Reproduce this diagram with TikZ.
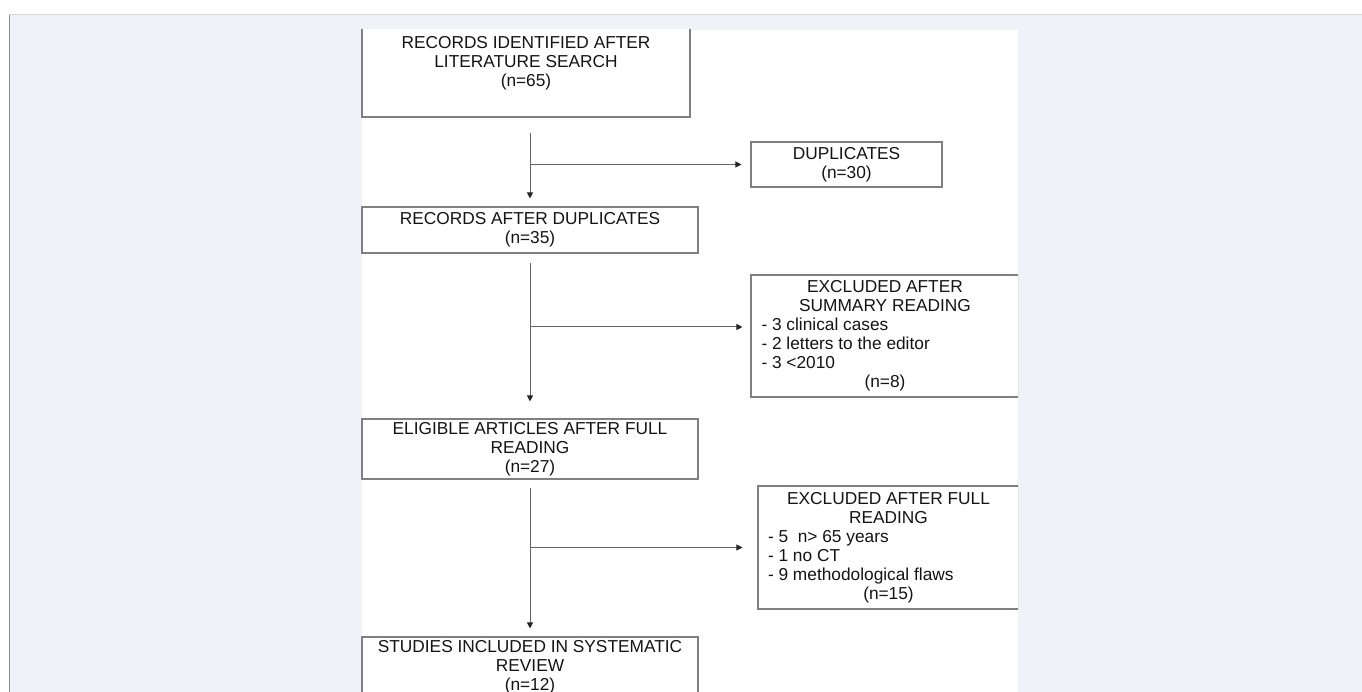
\documentclass[tikz,border=0pt]{standalone}
\usepackage{fontspec}
\setmainfont{Liberation Sans}
\usepackage{xcolor}
\definecolor{pagegray}{RGB}{241,242,247}
\definecolor{rulegray}{RGB}{216,216,216}
\definecolor{edgegray}{RGB}{140,140,140}
\definecolor{boxgray}{RGB}{128,128,128}
\definecolor{linegray}{RGB}{100,100,100}
\definecolor{textdark}{RGB}{20,20,20}
\usetikzlibrary{arrows.meta,calc}
\newcommand{\listline}[2]{\makebox[#1][l]{#2}}

\begin{document}
\begin{tikzpicture}[x=1pt,y=-1pt,
  box/.style={draw=boxgray,line width=1.1pt,fill=white,align=center,
    text=textdark,font=\fontsize{17.3}{19}\selectfont,inner sep=0pt},
  arrow/.style={draw=linegray,line width=1pt,
    -{Triangle[length=6pt,width=6pt,color=black!85]}}]
  \useasboundingbox (0,0) rectangle (1362,692);
  % page and panel
  \fill[white] (0,0) rectangle (1362,692);
  \fill[pagegray] (9,15) rectangle (1362,692);
  \draw[rulegray,line width=1pt] (9,15) -- (1362,15);
  \draw[edgegray,line width=1pt] (9,15) -- (9,692);
  \fill[white] (362,30) rectangle (1018,692);
  \begin{scope}
  \clip (361,30) rectangle (1018,692);
  % Box 1
  \node[box,minimum width=328pt,minimum height=90pt] (search) at (526,72)
        {RECORDS IDENTIFIED AFTER\\LITERATURE SEARCH\\(n=65)\rule[-21pt]{0pt}{0pt}};
  % Box 2
  \node[box,minimum width=336pt,minimum height=46pt] (dedup) at (530,230)
        {RECORDS AFTER DUPLICATES\\(n=35)};
  \node[box,minimum width=191pt,minimum height=45pt] (dup) at (846.5,164.5)
        {DUPLICATES\\(n=30)};
  % Box 3
  \node[box,minimum width=268pt,minimum height=122pt] (summary) at (885,336)
        {EXCLUDED AFTER\\SUMMARY READING\\
         \listline{247pt}{- 3 clinical cases}\\
         \listline{247pt}{- 2 letters to the editor}\\
         \listline{247pt}{- 3 <2010}\\(n=8)};
  % Box 4
  \node[box,minimum width=336pt,minimum height=60pt] (eligible) at (530,449)
        {ELIGIBLE ARTICLES AFTER FULL\\READING\\(n=27)};
  \node[box,minimum width=261pt,minimum height=123pt] (fullread) at (888.5,547.5)
        {EXCLUDED AFTER FULL\\READING\\
         \listline{241pt}{- 5~ n> 65 years}\\
         \listline{241pt}{- 1 no CT}\\
         \listline{241pt}{- 9 methodological flaws}\\(n=15)};
  % Box 5
  \node[box,minimum width=336pt,minimum height=60pt] (included) at (530,667)
        {STUDIES INCLUDED IN SYSTEMATIC\\REVIEW\\(n=12)};
  % arrows
  \draw[arrow] ([yshift=-15pt]search.south -| dedup.north) -- ([yshift=8pt]dedup.north);
  \draw[arrow] (dup.west -| dedup.north) -- ([xshift=-9pt]dup.west);
  \draw[arrow] ([yshift=-9pt]dedup.south) -- ([yshift=17pt]eligible.north);
  \draw[arrow] ([yshift=9pt]summary.west -| dedup.south) -- ([xshift=-8pt,yshift=9pt]summary.west);
  \draw[arrow] ([yshift=-8pt]eligible.south) -- ([yshift=8pt]included.north);
  \draw[arrow] (fullread.west -| eligible.south) -- ([xshift=-15pt]fullread.west);
  \end{scope}
\end{tikzpicture}
\end{document}
